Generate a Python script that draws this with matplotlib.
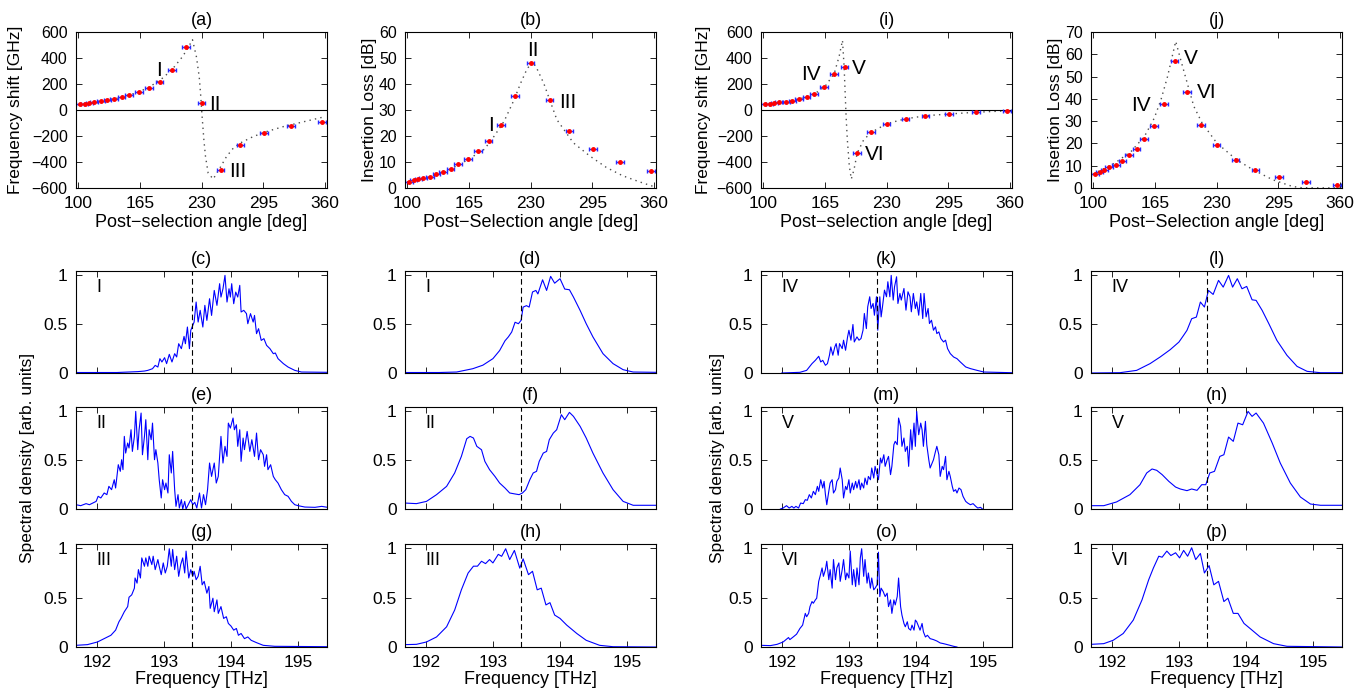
import matplotlib.pyplot as plt

plt.rcParams['font.family'] = ['Liberation Sans', 'DejaVu Sans']

# post-selection angles [deg] of the measured points (same for all four top panels)
angle = [102, 107, 112, 117, 124, 131, 138, 146, 154, 164, 175, 186, 199, 214, 230, 250, 271, 296, 324, 357]

shift_a = [46, 48, 54, 64, 69, 77, 84, 100, 112, 135, 168, 214, 304, 485, 51, -465, -273, -179, -123, -89]
loss_b = [2.5, 2.9, 3.3, 3.8, 4.4, 5.2, 6.2, 7.5, 9.2, 11.3, 14.1, 18.0, 24.3, 35.2, 47.9, 33.9, 22.1, 15.0, 9.9, 6.6]
shift_i = [46, 49, 54, 59, 64, 72, 85, 100, 126, 174, 274, 331, -331, -172, -105, -69, -44, -31, -18, -8]
loss_j = [6.1, 7.2, 8.2, 9.3, 10.5, 12.3, 14.8, 17.7, 21.8, 28.0, 37.8, 57.1, 43.1, 28.1, 19.1, 12.7, 8.1, 4.9, 2.7, 1.3]

# theory curves (dotted)
th_a = [(100, 40), (120, 62), (140, 88), (160, 128), (175, 175), (190, 250), (200, 320), (210, 410),
        (216, 480), (220.5, 541), (224.7, 408), (227.6, 255), (229, 128), (230.4, -26), (232.5, -230),
        (234.2, -357), (237, -485), (242.3, -531), (249.3, -447), (256.4, -357), (263.4, -294),
        (270.4, -255), (284.5, -204), (298.5, -166), (316, -128), (333.7, -97), (360, -51)]
th_b = [(100, 2.3), (120, 3.9), (140, 6.2), (160, 10.0), (181.5, 14.9), (191.9, 20.0), (202.3, 25.7),
        (212.7, 33.9), (219.6, 40.3), (226, 45.5), (231.7, 48.6), (236, 46.5), (243.9, 40.3),
        (257.7, 26.3), (275, 17.4), (292.4, 12.3), (309.8, 7.9), (327, 4.7), (344.4, 2.4), (360, 0.5)]
th_i = [(100, 43), (120, 58), (140, 88), (155, 128), (165, 178), (175, 280), (180.2, 413), (183.7, 536),
        (185.4, 336), (186.8, 80), (187.5, -49), (188.8, -228), (190.9, -433), (193, -531),
        (195.8, -459), (199.2, -331), (206.1, -228), (214.1, -172), (230.3, -105), (249.3, -69),
        (271.1, -44), (295.3, -31), (322.6, -18), (360, -5)]
th_j = [(100, 6.2), (123.2, 11.2), (140.4, 16.5), (154.3, 23.2), (164.6, 31.4), (171.6, 39.6),
        (178.5, 50), (187.1, 65.8), (192.3, 57.6), (199.2, 47.1), (206.1, 36.7), (214.8, 29.2),
        (230.3, 20.2), (251, 12.7), (268.4, 8.2), (289.1, 3.7), (309.8, 0.7), (320, 0.1), (360, 0)]

# measured spectra (frequency THz, normalised density)
spec_c = [(191.69, 0.005), (192.3, 0.005), (192.61, 0.014), (192.71, 0.02), (192.76, 0.027), (192.83, 0.044),
          (192.87, 0.078), (192.91, 0.061), (192.94, 0.147), (192.97, 0.113), (193.01, 0.157), (193.04, 0.096),
          (193.08, 0.191), (193.12, 0.113), (193.16, 0.198), (193.19, 0.164), (193.22, 0.3), (193.26, 0.249),
          (193.3, 0.375), (193.32, 0.3), (193.35, 0.471), (193.38, 0.249), (193.4, 0.437), (193.43, 0.488),
          (193.45, 0.522), (193.48, 0.727), (193.51, 0.522), (193.54, 0.642), (193.58, 0.471), (193.61, 0.693),
          (193.64, 0.539), (193.68, 0.761), (193.71, 0.59), (193.75, 0.846), (193.79, 0.693), (193.83, 0.915),
          (193.85, 0.778), (193.88, 0.863), (193.91, 1.0), (193.94, 0.727), (193.97, 0.863), (193.99, 0.778),
          (194.01, 0.915), (194.04, 0.71), (194.07, 0.829), (194.1, 0.778), (194.13, 0.898), (194.15, 0.625),
          (194.19, 0.642), (194.23, 0.608), (194.25, 0.505), (194.29, 0.608), (194.33, 0.522), (194.35, 0.59),
          (194.38, 0.403), (194.41, 0.454), (194.45, 0.334), (194.49, 0.352), (194.53, 0.283), (194.58, 0.249),
          (194.63, 0.198), (194.66, 0.205), (194.7, 0.147), (194.78, 0.096), (194.85, 0.061), (194.95, 0.027),
          (195.05, 0.01), (195.44, 0.007)]
spec_e = [(191.69, 0.044), (191.76, 0.034), (191.84, 0.055), (191.89, 0.044), (191.94, 0.061), (191.99, 0.078),
          (192.02, 0.13), (192.06, 0.113), (192.11, 0.164), (192.15, 0.147), (192.18, 0.232), (192.22, 0.198),
          (192.26, 0.3), (192.28, 0.215), (192.32, 0.454), (192.35, 0.386), (192.37, 0.505), (192.39, 0.403),
          (192.41, 0.744), (192.43, 0.573), (192.46, 0.676), (192.48, 0.625), (192.51, 0.812), (192.53, 0.59),
          (192.56, 0.744), (192.58, 1.0), (192.61, 0.608), (192.63, 0.812), (192.66, 0.983), (192.68, 0.556),
          (192.71, 0.744), (192.73, 0.915), (192.76, 0.505), (192.78, 0.812), (192.81, 0.71), (192.83, 0.88),
          (192.86, 0.505), (192.88, 0.608), (192.91, 0.471), (192.93, 0.3), (192.96, 0.113), (192.98, 0.3),
          (193.01, 0.198), (193.03, 0.266), (193.06, 0.164), (193.08, 0.556), (193.11, 0.369), (193.13, 0.59),
          (193.16, 0.198), (193.18, 0.027), (193.21, 0.147), (193.23, 0.01), (193.26, 0.096), (193.28, 0.0),
          (193.31, 0.078), (193.33, 0.0), (193.37, 0.055), (193.4, 0.096), (193.43, 0.044), (193.46, 0.068),
          (193.49, 0.01), (193.53, 0.164), (193.56, 0.01), (193.59, 0.147), (193.62, 0.044), (193.65, 0.198),
          (193.68, 0.471), (193.71, 0.334), (193.75, 0.471), (193.78, 0.266), (193.81, 0.334), (193.85, 0.744),
          (193.88, 0.471), (193.91, 0.642), (193.94, 0.539), (193.96, 0.88), (193.99, 0.829), (194.03, 0.932),
          (194.05, 0.812), (194.08, 0.863), (194.1, 0.642), (194.13, 0.812), (194.15, 0.488), (194.18, 0.727),
          (194.2, 0.608), (194.24, 0.795), (194.28, 0.59), (194.31, 0.71), (194.35, 0.539), (194.38, 0.778),
          (194.41, 0.505), (194.44, 0.608), (194.48, 0.556), (194.5, 0.437), (194.53, 0.556), (194.55, 0.403),
          (194.59, 0.454), (194.63, 0.334), (194.66, 0.3), (194.7, 0.266), (194.75, 0.198), (194.8, 0.147),
          (194.85, 0.13), (194.9, 0.078), (194.95, 0.044), (195.0, 0.034), (195.1, 0.02), (195.25, 0.017),
          (195.35, 0.027), (195.44, 0.017)]
spec_g = [(191.69, 0.017), (191.86, 0.024), (192.01, 0.051), (192.11, 0.085), (192.21, 0.119), (192.28, 0.171),
          (192.33, 0.256), (192.36, 0.29), (192.41, 0.358), (192.46, 0.41), (192.48, 0.505), (192.52, 0.529),
          (192.56, 0.597), (192.57, 0.7), (192.6, 0.648), (192.62, 0.785), (192.65, 0.7), (192.67, 0.904),
          (192.71, 0.819), (192.73, 0.904), (192.76, 0.819), (192.78, 0.921), (192.82, 0.836), (192.84, 0.921),
          (192.87, 0.785), (192.91, 0.887), (192.93, 0.819), (192.96, 0.734), (192.99, 0.853), (193.02, 0.751),
          (193.05, 0.819), (193.08, 0.997), (193.11, 0.819), (193.13, 0.99), (193.16, 0.785), (193.19, 0.921),
          (193.22, 0.717), (193.25, 0.836), (193.28, 0.904), (193.31, 0.751), (193.33, 0.973), (193.37, 0.7),
          (193.4, 0.785), (193.43, 0.717), (193.45, 0.768), (193.48, 0.683), (193.51, 0.717), (193.54, 0.819),
          (193.57, 0.631), (193.6, 0.666), (193.64, 0.546), (193.67, 0.614), (193.69, 0.392), (193.73, 0.495),
          (193.75, 0.358), (193.79, 0.478), (193.81, 0.341), (193.85, 0.41), (193.89, 0.29), (193.93, 0.307),
          (193.96, 0.239), (194.0, 0.212), (194.04, 0.171), (194.08, 0.188), (194.11, 0.119), (194.15, 0.137),
          (194.2, 0.085), (194.25, 0.102), (194.3, 0.068), (194.38, 0.044), (194.48, 0.017), (194.65, 0.007),
          (195.44, 0.003)]
spec_d = [(191.69, 0.005), (192.2, 0.005), (192.46, 0.01), (192.7, 0.044), (192.85, 0.08), (193.0, 0.147),
          (193.1, 0.23), (193.18, 0.33), (193.23, 0.37), (193.28, 0.42), (193.33, 0.52), (193.38, 0.505),
          (193.42, 0.54), (193.45, 0.675), (193.5, 0.69), (193.54, 0.675), (193.59, 0.83), (193.64, 0.846),
          (193.67, 0.81), (193.74, 0.955), (193.8, 0.846), (193.86, 0.99), (193.92, 0.92), (194.0, 0.966),
          (194.07, 0.86), (194.14, 0.853), (194.2, 0.778), (194.3, 0.64), (194.39, 0.505), (194.49, 0.37),
          (194.64, 0.198), (194.79, 0.096), (194.94, 0.034), (195.09, 0.01), (195.43, 0.007)]
spec_f = [(191.69, 0.061), (191.86, 0.055), (192.01, 0.078), (192.16, 0.147), (192.31, 0.232), (192.43, 0.369),
          (192.53, 0.539), (192.61, 0.72), (192.66, 0.744), (192.71, 0.727), (192.76, 0.642), (192.83, 0.607),
          (192.88, 0.488), (192.95, 0.403), (193.03, 0.334), (193.1, 0.266), (193.18, 0.215), (193.25, 0.164),
          (193.33, 0.154), (193.39, 0.147), (193.44, 0.164), (193.49, 0.198), (193.55, 0.3), (193.6, 0.369),
          (193.65, 0.386), (193.69, 0.488), (193.75, 0.573), (193.8, 0.59), (193.84, 0.71), (193.9, 0.778),
          (193.95, 0.812), (194.02, 0.966), (194.07, 0.915), (194.14, 0.99), (194.2, 0.949), (194.3, 0.846),
          (194.39, 0.727), (194.49, 0.573), (194.64, 0.369), (194.79, 0.198), (194.94, 0.078), (195.09, 0.038),
          (195.43, 0.038)]
spec_h = [(191.69, 0.024), (191.86, 0.027), (192.01, 0.051), (192.16, 0.102), (192.31, 0.205), (192.43, 0.375),
          (192.53, 0.58), (192.63, 0.75), (192.71, 0.82), (192.77, 0.82), (192.83, 0.87), (192.89, 0.846),
          (192.95, 0.887), (193.0, 0.853), (193.08, 0.94), (193.13, 0.92), (193.19, 0.997), (193.25, 0.887),
          (193.32, 0.98), (193.4, 0.8), (193.45, 0.894), (193.53, 0.734), (193.59, 0.768), (193.66, 0.58),
          (193.72, 0.597), (193.79, 0.427), (193.85, 0.45), (193.92, 0.324), (194.0, 0.29), (194.1, 0.222),
          (194.25, 0.137), (194.39, 0.068), (194.59, 0.017), (194.79, 0.003), (195.43, 0.0)]
spec_k = [(192.0, 0.0), (192.12, 0.003), (192.27, 0.007), (192.37, 0.027), (192.45, 0.096), (192.5, 0.13),
          (192.55, 0.171), (192.58, 0.113), (192.61, 0.13), (192.65, 0.079), (192.68, 0.096), (192.71, 0.182),
          (192.73, 0.267), (192.76, 0.182), (192.79, 0.267), (192.81, 0.301), (192.84, 0.182), (192.86, 0.301),
          (192.9, 0.25), (192.92, 0.336), (192.95, 0.233), (192.98, 0.37), (193.0, 0.438), (193.03, 0.336),
          (193.06, 0.497), (193.08, 0.318), (193.12, 0.37), (193.15, 0.336), (193.18, 0.353), (193.21, 0.438),
          (193.23, 0.61), (193.26, 0.455), (193.28, 0.678), (193.31, 0.781), (193.33, 0.661), (193.36, 0.712),
          (193.38, 0.592), (193.41, 0.781), (193.43, 0.438), (193.46, 0.781), (193.48, 0.575), (193.5, 0.678),
          (193.53, 0.849), (193.56, 0.781), (193.58, 0.935), (193.61, 0.781), (193.63, 1.0), (193.66, 0.747),
          (193.68, 0.884), (193.71, 0.986), (193.73, 0.712), (193.76, 0.815), (193.78, 0.747), (193.82, 0.866),
          (193.85, 0.644), (193.88, 0.832), (193.91, 0.781), (193.93, 0.627), (193.96, 0.815), (193.99, 0.661),
          (194.01, 0.729), (194.04, 0.592), (194.07, 0.815), (194.1, 0.558), (194.12, 0.815), (194.15, 0.575),
          (194.18, 0.661), (194.2, 0.507), (194.23, 0.541), (194.26, 0.438), (194.29, 0.473), (194.31, 0.404),
          (194.34, 0.421), (194.37, 0.353), (194.41, 0.318), (194.44, 0.336), (194.47, 0.25), (194.51, 0.199),
          (194.56, 0.164), (194.61, 0.147), (194.66, 0.113), (194.74, 0.062), (194.81, 0.045), (194.91, 0.027),
          (195.01, 0.01), (195.43, 0.003)]
spec_m = [(191.98, 0.0), (192.02, 0.01), (192.07, 0.034), (192.11, 0.01), (192.15, 0.027), (192.18, 0.01),
          (192.21, 0.027), (192.25, 0.01), (192.28, 0.061), (192.32, 0.055), (192.35, 0.096), (192.38, 0.089),
          (192.41, 0.147), (192.44, 0.113), (192.47, 0.181), (192.5, 0.147), (192.53, 0.232), (192.55, 0.181),
          (192.58, 0.3), (192.61, 0.215), (192.63, 0.283), (192.65, 0.147), (192.67, 0.044), (192.7, 0.181),
          (192.72, 0.266), (192.75, 0.3), (192.77, 0.164), (192.8, 0.198), (192.82, 0.283), (192.85, 0.317),
          (192.87, 0.42), (192.9, 0.3), (192.92, 0.113), (192.95, 0.232), (192.97, 0.198), (193.0, 0.3),
          (193.02, 0.164), (193.05, 0.266), (193.07, 0.198), (193.1, 0.283), (193.12, 0.215), (193.15, 0.3),
          (193.17, 0.198), (193.19, 0.266), (193.22, 0.215), (193.24, 0.317), (193.27, 0.249), (193.29, 0.334),
          (193.32, 0.3), (193.34, 0.42), (193.37, 0.317), (193.39, 0.437), (193.42, 0.352), (193.44, 0.3),
          (193.47, 0.522), (193.49, 0.471), (193.52, 0.556), (193.54, 0.437), (193.57, 0.505), (193.59, 0.539),
          (193.62, 0.352), (193.64, 0.437), (193.67, 0.659), (193.69, 0.693), (193.72, 0.659), (193.74, 0.932),
          (193.77, 0.846), (193.79, 0.642), (193.82, 0.727), (193.84, 0.59), (193.87, 0.642), (193.89, 0.437),
          (193.92, 0.812), (193.94, 0.608), (193.97, 0.88), (193.99, 0.642), (194.01, 1.0), (194.04, 0.761),
          (194.07, 0.88), (194.09, 0.812), (194.11, 0.642), (194.14, 0.898), (194.16, 0.659), (194.19, 0.505),
          (194.21, 0.42), (194.24, 0.471), (194.26, 0.505), (194.29, 0.59), (194.31, 0.642), (194.34, 0.556),
          (194.36, 0.334), (194.39, 0.437), (194.41, 0.403), (194.44, 0.539), (194.46, 0.3), (194.49, 0.386),
          (194.51, 0.334), (194.54, 0.232), (194.56, 0.181), (194.59, 0.198), (194.61, 0.164), (194.64, 0.215),
          (194.67, 0.198), (194.7, 0.13), (194.74, 0.078), (194.77, 0.061), (194.81, 0.044), (194.85, 0.055),
          (194.89, 0.027), (194.92, 0.01), (194.96, 0.017), (194.99, 0.0)]
spec_o = [(191.68, 0.017), (191.83, 0.014), (191.93, 0.027), (192.02, 0.051), (192.1, 0.096), (192.12, 0.075),
          (192.17, 0.102), (192.22, 0.13), (192.27, 0.188), (192.31, 0.222), (192.35, 0.341), (192.37, 0.307),
          (192.4, 0.341), (192.42, 0.41), (192.45, 0.461), (192.47, 0.444), (192.5, 0.478), (192.52, 0.495),
          (192.55, 0.666), (192.57, 0.717), (192.6, 0.802), (192.62, 0.717), (192.65, 0.785), (192.67, 0.87),
          (192.7, 0.683), (192.72, 0.785), (192.75, 0.597), (192.77, 0.887), (192.8, 0.683), (192.82, 0.802),
          (192.85, 0.853), (192.87, 0.666), (192.9, 0.785), (192.92, 0.887), (192.95, 0.683), (192.97, 0.751),
          (193.0, 0.7), (193.02, 0.973), (193.05, 0.631), (193.07, 0.785), (193.1, 0.614), (193.12, 0.802),
          (193.15, 0.631), (193.17, 0.904), (193.19, 0.997), (193.22, 0.717), (193.24, 0.887), (193.27, 0.648),
          (193.29, 0.751), (193.32, 0.597), (193.34, 0.7), (193.37, 0.58), (193.39, 0.597), (193.42, 0.631),
          (193.44, 0.962), (193.46, 0.512), (193.48, 0.597), (193.51, 0.563), (193.54, 0.512), (193.57, 0.546),
          (193.59, 0.41), (193.62, 0.478), (193.64, 0.341), (193.67, 0.478), (193.69, 0.427), (193.72, 0.512),
          (193.74, 0.7), (193.77, 0.41), (193.79, 0.324), (193.82, 0.239), (193.84, 0.205), (193.87, 0.256),
          (193.89, 0.188), (193.92, 0.171), (193.94, 0.222), (193.97, 0.171), (193.99, 0.273), (194.01, 0.256),
          (194.04, 0.205), (194.06, 0.171), (194.09, 0.239), (194.11, 0.154), (194.14, 0.102), (194.17, 0.119),
          (194.21, 0.085), (194.26, 0.075), (194.31, 0.061), (194.36, 0.041), (194.41, 0.034), (194.49, 0.02),
          (194.56, 0.007), (194.61, 0.0)]
spec_l = [(191.69, 0.0), (192.12, 0.003), (192.37, 0.027), (192.57, 0.096), (192.72, 0.164), (192.87, 0.239),
          (193.0, 0.317), (193.07, 0.386), (193.12, 0.437), (193.19, 0.556), (193.26, 0.573), (193.32, 0.727),
          (193.38, 0.676), (193.44, 0.846), (193.51, 0.805), (193.59, 0.949), (193.66, 0.88), (193.74, 1.0),
          (193.8, 0.88), (193.87, 0.966), (193.94, 0.863), (194.01, 0.887), (194.09, 0.75), (194.15, 0.744),
          (194.24, 0.642), (194.34, 0.505), (194.46, 0.334), (194.61, 0.181), (194.76, 0.068), (194.91, 0.017),
          (195.11, 0.003), (195.43, 0.003)]
spec_n = [(191.69, 0.034), (191.88, 0.034), (192.07, 0.072), (192.27, 0.147), (192.42, 0.249), (192.52, 0.369),
          (192.6, 0.41), (192.67, 0.396), (192.75, 0.352), (192.85, 0.283), (192.95, 0.225), (193.02, 0.205),
          (193.12, 0.188), (193.19, 0.205), (193.27, 0.191), (193.34, 0.249), (193.4, 0.249), (193.46, 0.369),
          (193.53, 0.386), (193.61, 0.539), (193.67, 0.556), (193.74, 0.737), (193.81, 0.693), (193.88, 0.88),
          (193.95, 0.863), (194.03, 1.0), (194.09, 0.949), (194.15, 0.983), (194.26, 0.88), (194.39, 0.676),
          (194.51, 0.471), (194.66, 0.266), (194.81, 0.123), (194.96, 0.051), (195.11, 0.038), (195.43, 0.038)]
spec_p = [(191.69, 0.027), (191.88, 0.034), (192.02, 0.068), (192.17, 0.137), (192.32, 0.273), (192.45, 0.478),
          (192.55, 0.683), (192.62, 0.802), (192.7, 0.921), (192.75, 0.911), (192.82, 0.973), (192.88, 0.928),
          (192.95, 0.956), (193.01, 0.904), (193.07, 0.98), (193.13, 0.921), (193.19, 1.007), (193.25, 0.887),
          (193.32, 0.949), (193.38, 0.751), (193.45, 0.826), (193.52, 0.631), (193.59, 0.666), (193.67, 0.461),
          (193.73, 0.495), (193.81, 0.341), (193.88, 0.341), (193.97, 0.239), (194.06, 0.188), (194.21, 0.102),
          (194.41, 0.034), (194.61, 0.007), (195.43, 0.0)]

f0 = 193.414  # centre frequency (dashed line)

fig = plt.figure(figsize=(13.71, 6.94), dpi=100)
W, H = 1371, 694
col_x = [76, 405, 761, 1091]
col_w = 251


def panel(col, y0, y1):
    ax = fig.add_axes([col_x[col] / W, 1 - y1 / H, col_w / W, (y1 - y0) / H])
    ax.tick_params(direction='in', top=True, right=True, length=4, width=0.6)
    ax.tick_params(axis='x', labelsize=12.5, pad=6)
    ax.tick_params(axis='y', labelsize=11.5, pad=6)
    for s in ax.spines.values():
        s.set_linewidth(0.8)
    return ax


def top_panel(col, title, vals, theory, ylim, yticks, xlab, ylab, labels):
    ax = panel(col, 32, 188)
    tx, ty = zip(*theory)
    ax.plot(tx, ty, ls=(0, (1, 3)), color='0.3', lw=1)
    if ylim[0] < 0:
        ax.axhline(0, color='k', lw=0.8)
    ax.errorbar(angle, vals, xerr=4, fmt='none', ecolor='#2a2aff', elinewidth=1, capsize=1.5, capthick=1)
    ax.plot(angle, vals, '.', color='red', ms=5)
    ax.set_xlim(98, 362)
    ax.set_ylim(*ylim)
    ax.set_xticks([100, 165, 230, 295, 360])
    ax.set_yticks(yticks)
    ax.set_title(title, fontsize=13, pad=5)
    ax.set_xlabel(xlab, fontsize=13)
    ax.xaxis.set_label_coords(0.5, -0.165)
    ax.set_ylabel(ylab, fontsize=12.5)
    for txt, x, y in labels:
        ax.text(x, y, txt, fontsize=15, ha='center', va='center')
    return ax


a = top_panel(0, '(a)', shift_a, th_a, (-600, 600), range(-600, 601, 200),
              'Post\u2212selection angle [deg]', 'Frequency shift [GHz]',
              [('I', 185, 306), ('II', 244, 46), ('III', 268, -472)])
a.yaxis.set_label_coords(-0.212, 0.5)
b = top_panel(1, '(b)', loss_b, th_b, (0, 60), range(0, 61, 10),
              'Post\u2212Selection angle [deg]', 'Insertion Loss [dB]',
              [('I', 188, 24), ('II', 233, 53), ('III', 269, 33)])
b.yaxis.set_label_coords(-0.112, 0.5)
i = top_panel(2, '(i)', shift_i, th_i, (-600, 600), range(-600, 601, 200),
              'Post\u2212selection angle [deg]', 'Frequency shift [GHz]',
              [('IV', 151, 272), ('V', 201, 323), ('VI', 218, -344)])
i.yaxis.set_label_coords(-0.2, 0.5)
j = top_panel(3, '(j)', loss_j, th_j, (0, 70), range(0, 71, 10),
              'Post\u2212Selection angle [deg]', 'Insertion Loss [dB]',
              [('IV', 151, 37), ('V', 203, 58), ('VI', 220, 43)])
j.yaxis.set_label_coords(-0.112, 0.5)

rows = [(271, 373), (407, 509), (544, 647)]
lower = [
    (0, 0, '(c)', spec_c, 'I'), (0, 1, '(e)', spec_e, 'II'), (0, 2, '(g)', spec_g, 'III'),
    (1, 0, '(d)', spec_d, 'I'), (1, 1, '(f)', spec_f, 'II'), (1, 2, '(h)', spec_h, 'III'),
    (2, 0, '(k)', spec_k, 'IV'), (2, 1, '(m)', spec_m, 'V'), (2, 2, '(o)', spec_o, 'VI'),
    (3, 0, '(l)', spec_l, 'IV'), (3, 1, '(n)', spec_n, 'V'), (3, 2, '(p)', spec_p, 'VI'),
]
for col, r, title, spec, lab in lower:
    ax = panel(col, *rows[r])
    fx, fy = zip(*spec)
    ax.plot(fx, fy, color='blue', lw=0.8)
    ax.axvline(f0, color='k', lw=0.8, ls=(0, (5, 3)))
    ax.set_xlim(191.69, 195.43)
    ax.set_ylim(0, 1.045)
    ax.set_xticks([192, 193, 194, 195])
    ax.set_yticks([0, 0.5, 1])
    ax.set_yticklabels(['0', '0.5', '1'])
    ax.tick_params(axis='y', labelsize=12.5)
    ax.set_title(title, fontsize=13, pad=5)
    ax.text(192.0, 0.88, lab, fontsize=13, ha='left', va='center')
    if r == 2:
        ax.set_xlabel('Frequency [THz]', fontsize=13)
        ax.xaxis.set_label_coords(0.5, -0.235)
    else:
        ax.set_xticklabels([])
    if r == 1 and col in (0, 2):
        ax.set_ylabel('Spectral density [arb. units]', fontsize=12.5)
        ax.yaxis.set_label_coords(-0.164 if col == 0 else -0.143, 0.5)

fig.savefig('out.png', dpi=100)
